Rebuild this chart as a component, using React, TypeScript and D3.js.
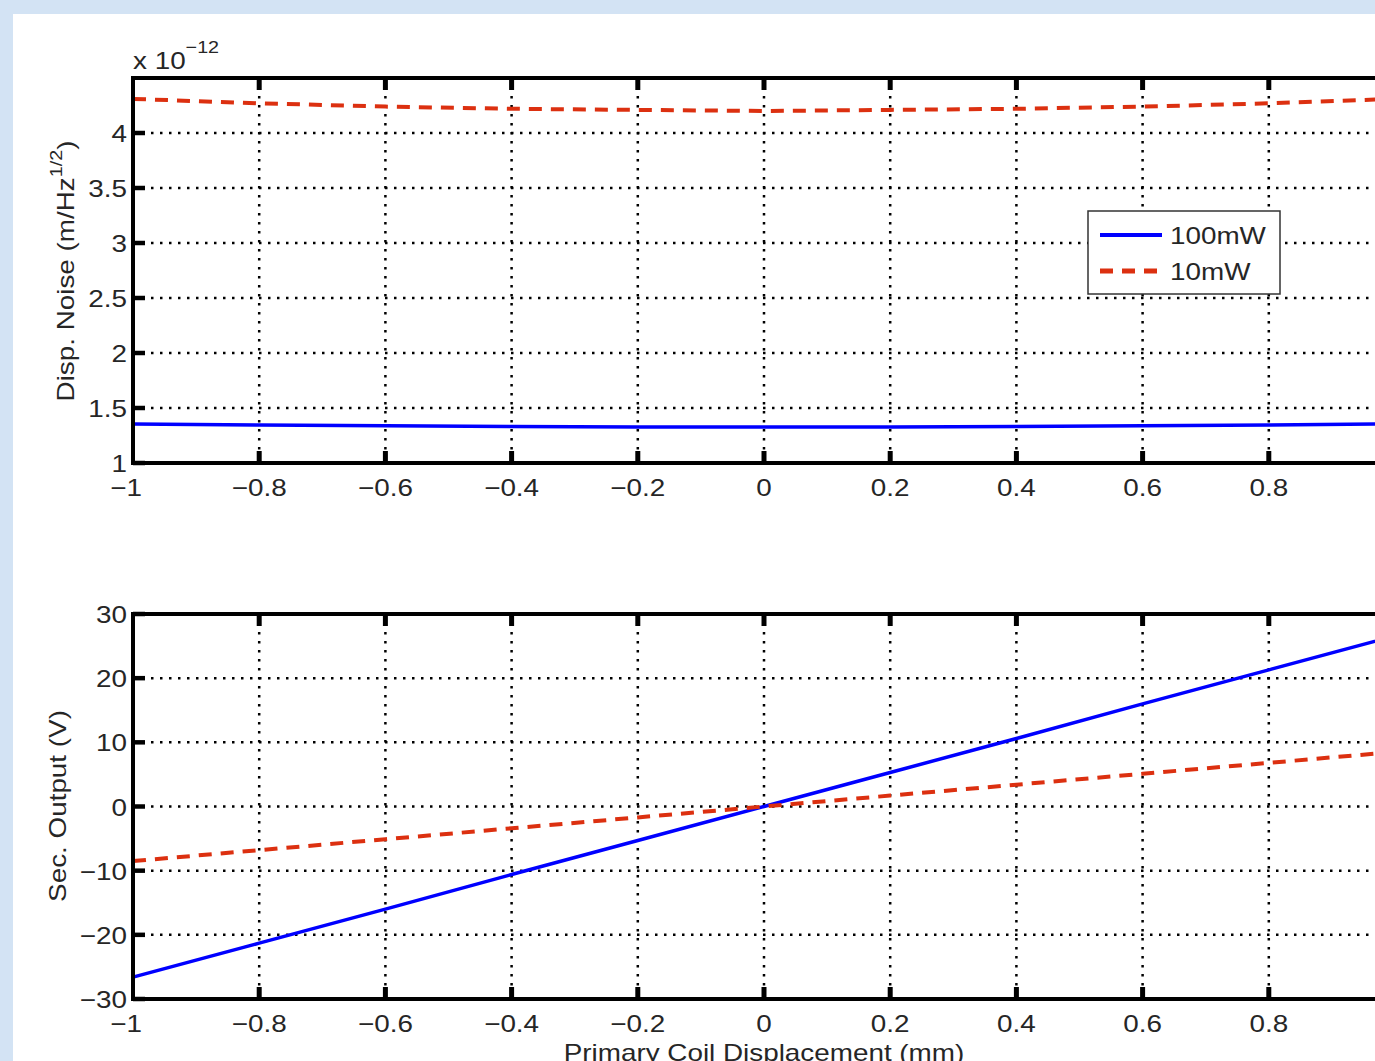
import React, { useEffect, useRef } from 'react';
import * as d3 from 'd3';

// displacement of the primary coil (mm)
const disp = [-1, -0.8, -0.6, -0.4, -0.2, 0, 0.2, 0.4, 0.6, 0.8, 1];

// displacement noise, x 1e-12 m/Hz^1/2
const noise100mW = [1.355, 1.345, 1.338, 1.332, 1.328, 1.327, 1.328, 1.332, 1.338, 1.345, 1.355];
const noise10mW = [4.31, 4.27, 4.24, 4.22, 4.21, 4.2, 4.21, 4.22, 4.24, 4.27, 4.31];

// secondary output (V)
const out100mW = [-26.6, -21.3, -16.0, -10.6, -5.3, 0, 5.3, 10.6, 16.0, 21.3, 26.6];
const out10mW = [-8.5, -6.8, -5.1, -3.4, -1.7, 0, 1.7, 3.4, 5.1, 6.8, 8.5];

const xTicks = [-1, -0.8, -0.6, -0.4, -0.2, 0, 0.2, 0.4, 0.6, 0.8, 1];
const noiseTicks = [1, 1.5, 2, 2.5, 3, 3.5, 4];
const outTicks = [-30, -20, -10, 0, 10, 20, 30];
const legendLabels = ['100mW', '10mW'];

const BLUE = '#0000ff';
const RED = '#dc3010';
const FONT = '"Liberation Sans", Arial, sans-serif';
const TXT = '#262626';
const SX = 1.16; // the original text is a bit wide

const W = 1375;
const H = 1061;
const left = 133;
const right = 1395; // x = 1 falls past the edge, chart is cropped

const fmt = (v: number) => (v < 0 ? '\u2212' + String(Math.abs(v)) : String(v));

const App = () => {
  const ref = useRef<SVGSVGElement | null>(null);

  useEffect(() => {
    const svg = d3.select(ref.current);
    svg.selectAll('*').remove();

    svg.append('rect').attr('width', W).attr('height', H).attr('fill', '#d3e3f4');
    svg.append('rect').attr('x', 13).attr('y', 14).attr('width', W).attr('height', H).attr('fill', '#fff');

    const x = d3.scaleLinear().domain([-1, 1]).range([left, right]);

    const label = (parent: any, tx: number, ty: number, anchor: string, rot = 0) =>
      parent
        .append('text')
        .attr('transform', `translate(${tx},${ty}) rotate(${rot}) scale(${SX},1)`)
        .attr('text-anchor', anchor)
        .attr('font-family', FONT)
        .attr('font-size', 24)
        .attr('fill', TXT);

    const panel = (top: number, bottom: number, yDomain: number[], yTicks: number[], series: { v: number[]; color: string; dash: string }[]) => {
      const y = d3.scaleLinear().domain(yDomain).range([bottom, top]);
      const g = svg.append('g');

      // dotted grid
      g.selectAll('line.vg')
        .data(xTicks.slice(1, -1))
        .enter()
        .append('line')
        .attr('x1', d => x(d))
        .attr('x2', d => x(d))
        .attr('y1', top)
        .attr('y2', bottom)
        .attr('stroke', '#000')
        .attr('stroke-width', 2.5)
        .attr('stroke-dasharray', '2.5,6.5');
      g.selectAll('line.hg')
        .data(yTicks.slice(1).filter(t => y(t) > top + 2))
        .enter()
        .append('line')
        .attr('x1', left)
        .attr('x2', right)
        .attr('y1', d => y(d))
        .attr('y2', d => y(d))
        .attr('stroke', '#000')
        .attr('stroke-width', 2.5)
        .attr('stroke-dasharray', '2.5,6.5');

      const line = (vals: number[]) =>
        d3
          .line<number>()
          .x((d, i) => x(disp[i]))
          .y(d => y(d))(vals);

      series.forEach(s => {
        g.append('path')
          .attr('d', line(s.v))
          .attr('fill', 'none')
          .attr('stroke', s.color)
          .attr('stroke-width', s.dash ? 4 : 3.5)
          .attr('stroke-dasharray', s.dash || null);
      });

      // box
      g.append('rect')
        .attr('x', left)
        .attr('y', top)
        .attr('width', right - left)
        .attr('height', bottom - top)
        .attr('fill', 'none')
        .attr('stroke', '#000')
        .attr('stroke-width', 4);

      // inward ticks
      xTicks.slice(1, -1).forEach(t => {
        g.append('line').attr('x1', x(t)).attr('x2', x(t)).attr('y1', bottom).attr('y2', bottom - 12).attr('stroke', '#000').attr('stroke-width', 5);
        g.append('line').attr('x1', x(t)).attr('x2', x(t)).attr('y1', top).attr('y2', top + 12).attr('stroke', '#000').attr('stroke-width', 5);
      });
      yTicks.forEach(t => {
        g.append('line').attr('x1', left).attr('x2', left + 12).attr('y1', y(t)).attr('y2', y(t)).attr('stroke', '#000').attr('stroke-width', 4.5);
      });

      // tick labels (the x = 1 label is outside the cropped picture)
      xTicks
        .filter(t => x(t) < W - 20)
        .forEach(t => {
          label(g, x(t) - (t === -1 ? 7 : 0), bottom + 33, 'middle').text(fmt(t));
        });
      yTicks.forEach(t => {
        label(g, left - 6, y(t) + 9, 'end').text(fmt(t));
      });

      return y;
    };

    panel(78, 463, [1, 4.5], noiseTicks, [
      { v: noise100mW, color: BLUE, dash: '' },
      { v: noise10mW, color: RED, dash: '13,9' },
    ]);
    panel(614, 999, [-30, 30], outTicks, [
      { v: out100mW, color: BLUE, dash: '' },
      { v: out10mW, color: RED, dash: '13,9' },
    ]);

    // exponent
    const ex = label(svg, 133, 69, 'start');
    ex.append('tspan').text('x 10');
    ex.append('tspan').attr('font-size', 17).attr('dy', -16).text('\u221212');

    // axis labels
    const yl1 = label(svg, 74, 271, 'middle', -90);
    yl1.append('tspan').text('Disp. Noise (m/Hz');
    yl1.append('tspan').attr('font-size', 17).attr('dy', -12).text('1/2');
    yl1.append('tspan').attr('dy', 12).text(')');

    label(svg, 66, 806, 'middle', -90).text('Sec. Output (V)');
    label(svg, 764, 1061, 'middle').text('Primary Coil Displacement (mm)');

    // legend
    const lg = svg.append('g').attr('transform', 'translate(1088,211)');
    lg.append('rect').attr('width', 192).attr('height', 83).attr('fill', '#fff').attr('stroke', '#333').attr('stroke-width', 1.5);
    legendLabels.forEach((lab, i) => {
      const ly = 24 + i * 36;
      lg.append('line')
        .attr('x1', 12)
        .attr('x2', 74)
        .attr('y1', ly)
        .attr('y2', ly)
        .attr('stroke', i === 0 ? BLUE : RED)
        .attr('stroke-width', i === 0 ? 4 : 5)
        .attr('stroke-dasharray', i === 0 ? null : '13,9');
      label(lg, 82, ly + 9, 'start').text(lab);
    });
  }, []);

  return (
    <div style={{ position: 'fixed', left: 0, top: 0, width: W, height: H, overflow: 'hidden' }}>
      <svg ref={ref} width={W} height={H} style={{ display: 'block' }} />
    </div>
  );
};

export default App;
